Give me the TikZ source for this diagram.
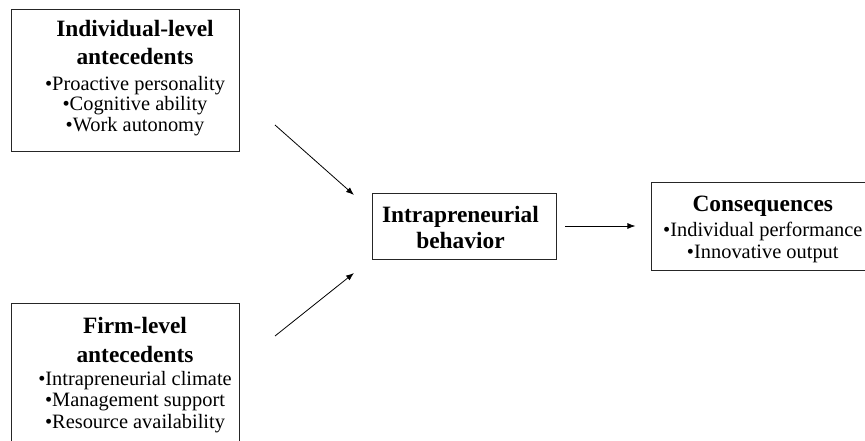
\documentclass[tikz,border=0pt]{standalone}
\usepackage{fontspec}
\setmainfont{Liberation Serif}
\usetikzlibrary{arrows.meta,positioning}

\newcommand{\headfont}{\bfseries\fontsize{23.4}{26}\selectfont}
\newcommand{\itemfont}{\fontsize{20.4}{21.5}\selectfont}

\begin{document}
\begin{tikzpicture}[x=1pt,y=-1pt,
    stagebox/.style={draw=black!85, line width=0.8pt, inner sep=0pt},
    stagetext/.style={align=center, inner sep=0pt, anchor=north, font=\itemfont},
    link/.style={-{Latex[length=8pt,width=6pt]}, line width=0.8pt}
    ]
    \useasboundingbox (0,0) rectangle (865,441);

    % antecedents on the left
    \node[stagebox, minimum width=228pt, minimum height=142pt] (ind) at (125,80) {};
    \node[stagetext, below=11pt of ind.north, xshift=10pt] (ind-text)
        {{\headfont Individual-level}\\[7pt]{\headfont antecedents}\\[4pt]
         •Proactive personality\\[-1pt]•Cognitive ability\\[-1pt]•Work autonomy};
    \node[stagebox, minimum width=228pt, minimum height=142pt, below=152pt of ind] (firm) {};
    \node[stagetext, below=14pt of firm.north, xshift=10pt] (firm-text)
        {{\headfont Firm-level}\\[7pt]{\headfont antecedents}\\[1.5pt]
         •Intrapreneurial climate\\•Management support\\•Resource availability};

    % behaviour and its outcome
    \node[stagebox, minimum width=184pt, minimum height=66pt] (beh) at (464,226) {};
    \node[stagetext, font=\headfont, below=13pt of beh.north, xshift=-3.5pt] (beh-text)
        {Intrapreneurial\\behavior};
    \node[stagebox, minimum width=220pt, minimum height=88pt, right=95pt of beh] (cons) {};
    \node[stagetext, below=14pt of cons.north, xshift=1pt] (cons-text)
        {{\headfont Consequences}\\[3.5pt]•Individual performance\\[0.5pt]•Innovative output};

    % free ends of the slanted arrows
    \coordinate (ind-out) at (275,125);
    \coordinate (beh-in1) at (354,195);
    \coordinate (firm-out) at (275,336);
    \coordinate (beh-in2) at (354,273);

    \draw[link] (ind-out) -- (beh-in1);
    \draw[link] (firm-out) -- (beh-in2);
    \draw[link, shorten <=9pt, shorten >=16pt] (beh.east) -- (cons.west);
\end{tikzpicture}
\end{document}
